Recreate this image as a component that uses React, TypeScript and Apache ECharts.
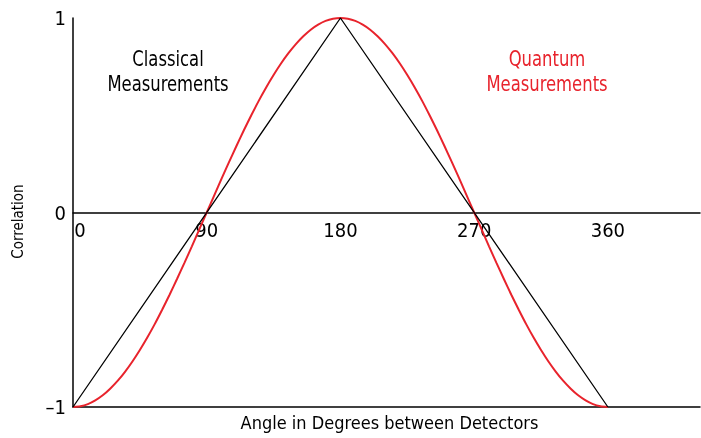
import React, { useEffect, useRef } from "react";
import * as echarts from "echarts";

const angles = [0, 5, 10, 15, 20, 25, 30, 35, 40, 45, 50, 55, 60, 65, 70, 75, 80, 85, 90,
  95, 100, 105, 110, 115, 120, 125, 130, 135, 140, 145, 150, 155, 160, 165, 170, 175, 180,
  185, 190, 195, 200, 205, 210, 215, 220, 225, 230, 235, 240, 245, 250, 255, 260, 265, 270,
  275, 280, 285, 290, 295, 300, 305, 310, 315, 320, 325, 330, 335, 340, 345, 350, 355, 360];
const quantum = [
  -1, -0.996, -0.985, -0.966, -0.94, -0.906, -0.866, -0.819, -0.766, -0.707, -0.643, -0.574, -0.5, -0.423, -0.342, -0.259, -0.174, -0.087, 0,
  0.087, 0.174, 0.259, 0.342, 0.423, 0.5, 0.574, 0.643, 0.707, 0.766, 0.819, 0.866, 0.906, 0.94, 0.966, 0.985, 0.996, 1,
  0.996, 0.985, 0.966, 0.94, 0.906, 0.866, 0.819, 0.766, 0.707, 0.643, 0.574, 0.5, 0.423, 0.342, 0.259, 0.174, 0.087, 0,
  -0.087, -0.174, -0.259, -0.342, -0.423, -0.5, -0.574, -0.643, -0.707, -0.766, -0.819, -0.866, -0.906, -0.94, -0.966, -0.985, -0.996, -1,
];
const classicalAngles = [0, 180, 360];
const classical = [-1, 1, -1];
const xTicks = [0, 90, 180, 270, 360];
const yTicks = [-1, 0, 1];

const FONT = "'Liberation Sans Narrow', 'DejaVu Sans Condensed', sans-serif";
const RED = "#e8232c";

export default function App() {
  const ref = useRef<HTMLDivElement>(null);
  useEffect(() => {
    const chart = echarts.init(ref.current!, null, { renderer: "svg" });
    chart.setOption({
      animation: false,
      textStyle: { fontFamily: FONT },
      grid: { left: 73, right: 1, top: 18, bottom: 31, outerBoundsMode: "none", containLabel: false },
      xAxis: [
        {
          type: "value",
          min: 0,
          max: 422,
          interval: 90,
          position: "bottom",
          offset: -194.5,
          axisLine: { onZero: false, lineStyle: { color: "#000", width: 1.5 } },
          axisTick: { show: false },
          splitLine: { show: false },
          axisLabel: {
            color: "#000",
            fontSize: 20,
            fontFamily: FONT,
            margin: 7,
            formatter: (v: number) => {
              if (!xTicks.includes(v)) return "";
              return v === 0 ? "{z|0}" : String(v);
            },
            rich: { z: { fontSize: 20, fontFamily: FONT, color: "#000", padding: [0, 0, 0, 14] } },
          },
        },
        {
          type: "value",
          position: "bottom",
          min: 0,
          max: 422,
          interval: 90,
          name: "Angle in Degrees between Detectors",
          nameLocation: "middle",
          nameGap: 6,
          nameTextStyle: { color: "#000", fontSize: 18, fontFamily: FONT, padding: [0, 0, 0, 6] },
          axisLine: { onZero: false, lineStyle: { color: "#000", width: 1.5 } },
          axisTick: { show: false },
          axisLabel: { show: false },
          splitLine: { show: false },
        },
      ],
      yAxis: {
        type: "value",
        min: -1,
        max: 1,
        interval: 1,
        name: "Correlation",
        nameLocation: "middle",
        nameGap: 48,
        nameTextStyle: { color: "#000", fontSize: 15, fontFamily: FONT, padding: [0, 18, 0, 0] },
        axisLine: { show: true, onZero: false, lineStyle: { color: "#000", width: 1.5 } },
        axisTick: { show: false },
        splitLine: { show: false },
        axisLabel: {
          color: "#000",
          fontSize: 20,
          fontFamily: FONT,
          margin: 7,
          formatter: (v: number) => (yTicks.includes(v) ? (v < 0 ? "\u2013" + Math.abs(v) : String(v)) : ""),
        },
      },
      graphic: [
        {
          type: "text",
          x: 168,
          y: 46,
          scaleX: 0.83,
          style: {
            text: "Classical\nMeasurements",
            fill: "#000",
            font: `22px ${FONT}`,
            align: "center",
            verticalAlign: "top",
            lineHeight: 25,
          },
        },
        {
          type: "text",
          x: 547,
          y: 46,
          scaleX: 0.83,
          style: {
            text: "Quantum\nMeasurements",
            fill: RED,
            font: `22px ${FONT}`,
            align: "center",
            verticalAlign: "top",
            lineHeight: 25,
          },
        },
      ],
      series: [
        {
          type: "line",
          xAxisIndex: 0,
          data: angles.map((a, i) => [a, quantum[i]]),
          smooth: 0.2,
          symbol: "none",
          clip: false,
          lineStyle: { color: RED, width: 2 },
          z: 2,
        },
        {
          type: "line",
          xAxisIndex: 0,
          data: classicalAngles.map((a, i) => [a, classical[i]]),
          symbol: "none",
          clip: false,
          lineStyle: { color: "#000", width: 1.3 },
          z: 3,
        },
      ],
    });
    return () => chart.dispose();
  }, []);
  return <div ref={ref} style={{ position: "fixed", left: 0, top: 0, width: 701, height: 438 }} />;
}
